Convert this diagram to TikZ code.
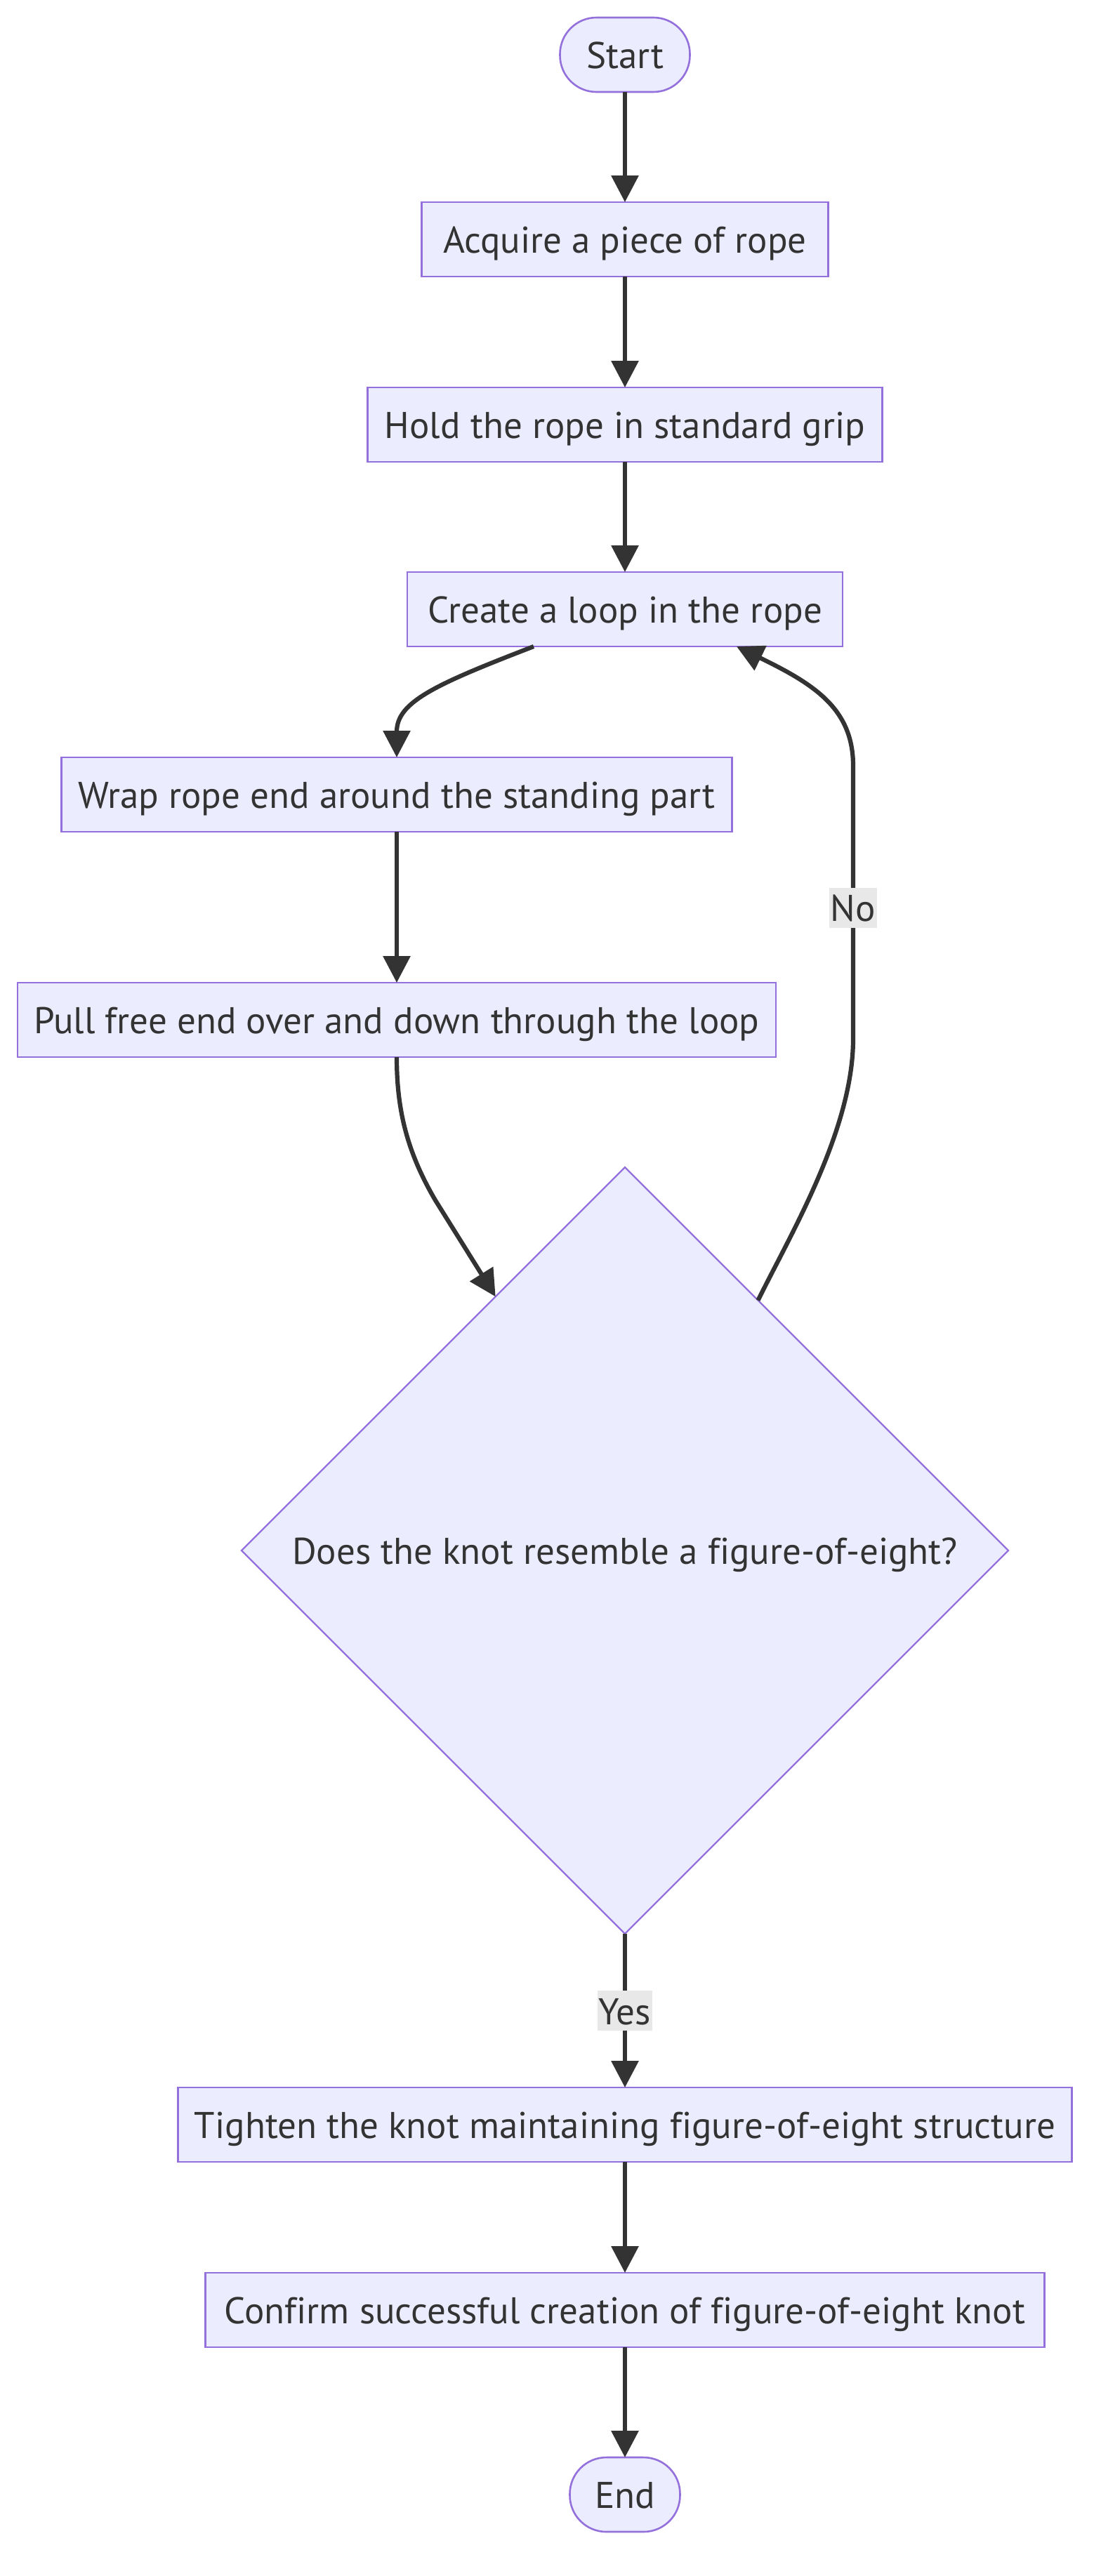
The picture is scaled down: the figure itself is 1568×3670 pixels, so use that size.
\documentclass[tikz,border=0pt]{standalone}
\usepackage{fontspec}
\setmainfont[Ligatures=NoCommon]{PT Sans}
\usetikzlibrary{shapes.geometric,arrows.meta}
\definecolor{nodefill}{HTML}{ECECFF}
\definecolor{nodeline}{HTML}{9370DB}
\definecolor{edgecol}{HTML}{333333}
\definecolor{labelbg}{HTML}{E8E8E8}
\begin{document}
\begin{tikzpicture}[x=1pt,y=-1pt,
  txt/.style={font=\fontsize{53}{63}\selectfont, text=edgecol, text height=40pt, text depth=1pt},
  proc/.style={rectangle, draw=nodeline, fill=nodefill, line width=2.6pt, minimum height=106pt, inner sep=0pt, outer sep=0pt, txt},
  term/.style={proc, rounded corners=52pt},
  dec/.style={diamond, draw=nodeline, fill=nodefill, line width=2.4pt, minimum width=1092pt, minimum height=1092pt, aspect=1, inner sep=0pt, outer sep=0pt, txt},
  flow/.style={draw=edgecol, line width=6.2pt, -{Triangle[length=38pt,width=38pt]}},
  elabel/.style={fill=labelbg, txt, inner xsep=2pt, inner ysep=0pt, minimum height=57pt}
]
\useasboundingbox (0,0) rectangle (1568,3670);
\fill[white] (0,0) rectangle (1568,3670);

\node[term, minimum width=185pt] (start) at (890,78) {Start};
\node[proc, minimum width=579pt] (acq) at (890,341) {Acquire a piece of rope};
\node[proc, minimum width=733pt] (hold) at (890,605) {Hold the rope in standard grip};
\node[proc, minimum width=620pt] (loop) at (890,868) {Create a loop in the rope};
\node[proc, minimum width=955pt] (wrap) at (565,1132) {Wrap rope end around the standing part};
\node[proc, minimum width=1080pt] (pull) at (565,1453) {Pull free end over and down through the loop};
\node[dec] (check) at (890,2209) {Does the knot resemble a figure-of-eight?};
\node[proc, minimum width=1273pt] (tight) at (890,3027) {Tighten the knot maintaining figure-of-eight structure};
\node[proc, minimum width=1195pt] (conf) at (890,3291) {Confirm successful creation of figure-of-eight knot};
\node[term, minimum width=157pt] (end) at (890,3554) {End};

\draw[flow] (start.south) -- (acq.north);
\draw[flow] (acq.south) -- (hold.north);
\draw[flow] (hold.south) -- (loop.north);
\draw[flow] ([xshift=-130pt]loop.south) .. controls (620,975) and (565,1000) .. (wrap.north);
\draw[flow] (wrap.south) -- (pull.north);
\draw[flow] (pull.south) .. controls (565,1580) and (579,1640) .. (620,1710) -- (check.117.7);
\draw[flow] (check.62) .. controls (1125,1760) and (1215,1610) .. (1215,1480)
  -- node[elabel, pos=0.48] {No} (1215,1091)
  .. controls (1215,1010) and (1160,975) .. ([xshift=159pt]loop.south);
\draw[flow] (check.south) -- node[elabel] {Yes} (tight.north);
\draw[flow] (tight.south) -- (conf.north);
\draw[flow] (conf.south) -- (end.north);
\end{tikzpicture}
\end{document}
